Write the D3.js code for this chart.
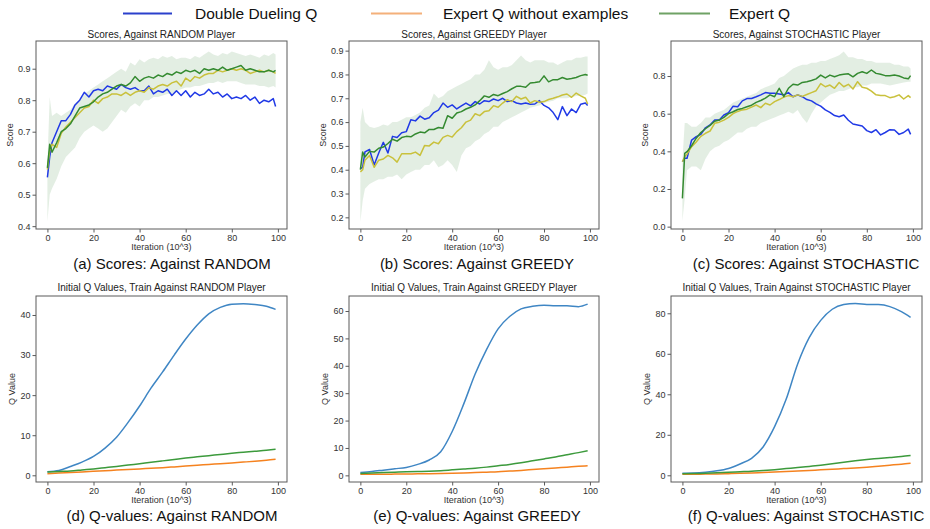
<!DOCTYPE html>
<html>
<head>
<meta charset="utf-8">
<script src="https://cdn.jsdelivr.net/npm/d3@7"></script>
<style>
  body { margin: 0; background: #fff; }
  svg { font-family: "Liberation Sans", Arial, Helvetica, sans-serif; }
</style>
</head>
<body>
<svg id="fig" width="930" height="529"></svg>
<script>
// legend names
const seriesNames = ['Double Dueling Q', 'Expert Q without examples', 'Expert Q']

// x positions (iterations, 10^3) of the score curves
const scoreIters = [0,1,2,4,6,8,10,12,14,16,18,20,22,24,26,28,30,32,34,36,38,40,42,44,46,48,
  50,52,54,56,58,60,62,64,66,68,70,72,74,76,78,80,82,84,86,88,90,92,94,96,98,99]

// (a) scores against RANDOM
const randomDueling = [0.555,0.62,0.665,0.70,0.735,0.735,0.755,0.785,0.80,0.825,0.81,0.83,0.835,0.83,0.845,0.84,0.835,0.85,0.84,0.835,
  0.84,0.83,0.83,0.845,0.82,0.83,0.825,0.835,0.815,0.83,0.815,0.83,0.81,0.825,0.815,0.82,0.835,0.82,0.825,0.81,
  0.82,0.805,0.81,0.805,0.815,0.80,0.81,0.79,0.80,0.795,0.805,0.78]
const randomNoEx = [0.58,0.64,0.66,0.65,0.695,0.715,0.73,0.745,0.76,0.775,0.78,0.80,0.79,0.805,0.81,0.82,0.82,0.815,0.825,0.815,
  0.825,0.83,0.825,0.84,0.835,0.845,0.85,0.845,0.855,0.86,0.845,0.87,0.86,0.875,0.87,0.88,0.885,0.885,0.895,0.89,
  0.895,0.90,0.895,0.90,0.895,0.885,0.89,0.895,0.89,0.895,0.89,0.885]
const randomExpert = [0.585,0.66,0.635,0.665,0.70,0.71,0.725,0.75,0.775,0.78,0.785,0.795,0.81,0.82,0.825,0.835,0.845,0.85,0.845,0.855,
  0.875,0.86,0.87,0.875,0.87,0.88,0.875,0.885,0.88,0.89,0.885,0.895,0.89,0.895,0.885,0.90,0.895,0.90,0.895,0.905,
  0.895,0.90,0.905,0.91,0.895,0.90,0.895,0.89,0.89,0.895,0.89,0.895]
const randomExpertHi = [0.60,0.81,0.75,0.76,0.75,0.76,0.77,0.79,0.80,0.82,0.83,0.84,0.85,0.86,0.87,0.88,0.89,0.90,0.89,0.92,
  0.91,0.93,0.92,0.93,0.935,0.93,0.94,0.935,0.94,0.93,0.935,0.935,0.93,0.94,0.935,0.945,0.955,0.945,0.94,0.95,
  0.945,0.955,0.95,0.945,0.94,0.945,0.94,0.935,0.945,0.94,0.95,0.945]
const randomExpertLo = [0.415,0.50,0.52,0.55,0.59,0.62,0.635,0.65,0.68,0.70,0.71,0.72,0.71,0.70,0.71,0.73,0.75,0.77,0.76,0.78,
  0.79,0.78,0.80,0.80,0.81,0.81,0.815,0.82,0.82,0.83,0.835,0.84,0.84,0.845,0.845,0.85,0.855,0.855,0.86,0.855,
  0.86,0.86,0.86,0.855,0.85,0.85,0.85,0.845,0.845,0.84,0.845,0.84]

// (b) scores against GREEDY
const greedyDueling = [0.405,0.41,0.475,0.485,0.42,0.47,0.515,0.47,0.54,0.535,0.555,0.56,0.61,0.605,0.625,0.612,0.618,0.64,0.65,0.68,
  0.662,0.672,0.655,0.668,0.68,0.668,0.686,0.676,0.69,0.686,0.697,0.69,0.70,0.686,0.69,0.68,0.676,0.68,0.675,0.676,
  0.69,0.67,0.66,0.64,0.61,0.665,0.627,0.655,0.64,0.675,0.68,0.67]
const greedyNoEx = [0.391,0.40,0.44,0.46,0.41,0.44,0.445,0.46,0.45,0.432,0.467,0.467,0.467,0.474,0.46,0.502,0.50,0.516,0.509,0.536,
  0.544,0.537,0.56,0.576,0.60,0.608,0.635,0.627,0.644,0.648,0.669,0.662,0.68,0.694,0.686,0.708,0.697,0.704,0.68,0.69,
  0.683,0.686,0.695,0.70,0.706,0.714,0.718,0.704,0.722,0.71,0.70,0.676]
const greedyExpert = [0.40,0.474,0.453,0.477,0.474,0.49,0.495,0.51,0.528,0.52,0.535,0.54,0.538,0.55,0.558,0.555,0.569,0.569,0.577,0.574,
  0.627,0.616,0.638,0.644,0.655,0.662,0.672,0.69,0.71,0.704,0.716,0.711,0.72,0.728,0.74,0.75,0.75,0.746,0.764,0.766,
  0.769,0.794,0.769,0.778,0.778,0.787,0.78,0.783,0.787,0.795,0.80,0.797]
const greedyExpertHi = [0.60,0.66,0.60,0.58,0.575,0.58,0.59,0.585,0.60,0.60,0.61,0.62,0.62,0.63,0.64,0.66,0.67,0.72,0.70,0.71,
  0.73,0.74,0.75,0.76,0.77,0.78,0.80,0.80,0.82,0.86,0.83,0.82,0.83,0.83,0.84,0.86,0.88,0.86,0.85,0.86,
  0.86,0.86,0.85,0.85,0.84,0.85,0.86,0.86,0.87,0.87,0.875,0.875]
const greedyExpertLo = [0.18,0.27,0.32,0.34,0.35,0.36,0.36,0.37,0.37,0.38,0.36,0.38,0.39,0.40,0.40,0.42,0.42,0.44,0.41,0.42,
  0.44,0.42,0.39,0.46,0.49,0.50,0.52,0.53,0.55,0.56,0.58,0.58,0.60,0.61,0.62,0.63,0.64,0.65,0.66,0.665,
  0.67,0.68,0.685,0.69,0.70,0.70,0.70,0.705,0.71,0.71,0.715,0.72]

// (c) scores against STOCHASTIC
const stochDueling = [0.345,0.363,0.363,0.46,0.478,0.49,0.525,0.54,0.566,0.566,0.593,0.605,0.64,0.637,0.668,0.68,0.681,0.69,0.70,0.712,
  0.708,0.708,0.705,0.70,0.712,0.69,0.70,0.69,0.675,0.668,0.652,0.64,0.62,0.607,0.59,0.584,0.593,0.565,0.545,0.54,
  0.535,0.51,0.50,0.515,0.487,0.50,0.515,0.513,0.49,0.50,0.518,0.49]
const stochNoEx = [0.345,0.372,0.385,0.425,0.45,0.48,0.496,0.508,0.549,0.555,0.566,0.58,0.60,0.612,0.62,0.624,0.635,0.646,0.632,0.655,
  0.646,0.664,0.675,0.688,0.696,0.69,0.70,0.692,0.702,0.712,0.722,0.76,0.743,0.752,0.735,0.766,0.743,0.756,0.731,0.77,
  0.74,0.735,0.72,0.70,0.696,0.696,0.685,0.69,0.70,0.678,0.696,0.685]
const stochExpert = [0.15,0.389,0.398,0.43,0.47,0.50,0.52,0.538,0.56,0.566,0.58,0.60,0.61,0.622,0.628,0.637,0.645,0.66,0.67,0.683,
  0.70,0.69,0.735,0.69,0.735,0.756,0.752,0.766,0.77,0.776,0.785,0.805,0.79,0.805,0.796,0.805,0.809,0.812,0.796,0.814,
  0.823,0.814,0.832,0.814,0.809,0.802,0.802,0.805,0.80,0.79,0.785,0.802]
const stochExpertHi = [0.35,0.55,0.55,0.53,0.53,0.55,0.58,0.58,0.60,0.61,0.62,0.64,0.66,0.67,0.68,0.69,0.70,0.71,0.73,0.74,
  0.75,0.76,0.79,0.80,0.82,0.84,0.85,0.86,0.86,0.87,0.87,0.88,0.88,0.89,0.90,0.91,0.93,0.90,0.90,0.89,
  0.89,0.88,0.88,0.87,0.87,0.87,0.87,0.86,0.86,0.85,0.85,0.84]
const stochExpertLo = [0.03,0.15,0.30,0.32,0.32,0.30,0.36,0.40,0.42,0.43,0.45,0.46,0.48,0.50,0.50,0.52,0.53,0.53,0.55,0.56,
  0.57,0.58,0.59,0.60,0.61,0.60,0.62,0.58,0.55,0.60,0.64,0.66,0.68,0.70,0.71,0.72,0.72,0.73,0.74,0.74,
  0.75,0.75,0.76,0.76,0.76,0.755,0.75,0.755,0.76,0.765,0.77,0.77]

// x positions of the initial Q-value curves
const qIters = [0,5,10,15,20,25,30,35,40,45,50,55,60,65,70,75,80,85,90,95,99]

const qRandomDueling = [0.9,1.2,2.2,3.3,4.7,6.8,9.5,13.2,17.3,21.8,25.8,30,34,37.5,40.3,41.9,42.7,42.8,42.6,42.2,41.4]
const qRandomNoEx = [0.4,0.55,0.7,0.85,1.0,1.15,1.3,1.45,1.6,1.75,1.9,2.1,2.3,2.5,2.7,2.9,3.1,3.3,3.5,3.75,4.0]
const qRandomExpert = [0.8,0.95,1.1,1.35,1.6,1.9,2.2,2.55,2.9,3.25,3.6,3.95,4.3,4.6,4.9,5.2,5.5,5.75,6.0,6.25,6.5]

const qGreedyDueling = [1.0,1.4,1.9,2.4,2.9,4.0,5.6,8.6,16,26,37,46,53.5,58,60.8,61.7,62.1,61.9,61.9,61.6,62.5]
const qGreedyNoEx = [0.4,0.4,0.4,0.45,0.5,0.55,0.6,0.7,0.8,0.9,1.0,1.15,1.3,1.55,1.8,2.1,2.4,2.7,3.0,3.3,3.5]
const qGreedyExpert = [0.7,0.85,1.0,1.15,1.3,1.4,1.5,1.7,2.0,2.3,2.6,3.0,3.5,4.0,4.6,5.3,6.0,6.7,7.5,8.3,9.0]

const qStochDueling = [1.0,1.1,1.5,2.2,3.4,5.6,8.4,14,24,37.5,55,68,76.5,82,84.3,84.8,84.4,84.3,83.3,80.8,78]
const qStochNoEx = [0.5,0.55,0.6,0.7,0.8,0.95,1.1,1.35,1.6,1.85,2.1,2.4,2.7,3.0,3.3,3.6,4.0,4.5,5.0,5.5,6.0]
const qStochExpert = [0.8,0.9,1.0,1.2,1.5,1.75,2.0,2.4,2.8,3.3,3.8,4.4,5.0,5.7,6.5,7.2,7.8,8.3,8.8,9.3,9.8]

const xTicks = [0,20,40,60,80,100]

// colours
const scoreColors = ['#2039e6', '#c9c13c', '#348a30']
const qColors = ['#3f86c4', '#f5821f', '#3c9a3c']
const legendColors = ['#2b40cc', '#f4b07a', '#6fa265']
const bandColor = '#3a8a3a'

const svg = d3.select('#fig')

// layout of the 2x3 grid
const cols = [{x0: 36, x1: 287, cx: 172}, {x0: 349, x1: 599, cx: 477}, {x0: 671, x1: 922, cx: 806}]
const rows = [
  {y0: 41, y1: 229, title: 38, xlab: 250, cap: 269, ylabOff: 23},
  {y0: 296, y1: 482, title: 291, xlab: 503, cap: 521, ylabOff: 21}
]

const panels = [
  {col: 0, row: 0, title: 'Scores, Against RANDOM Player', cap: '(a) Scores: Against RANDOM', ylab: 'Score',
    ydom: [0.391, 0.988], yticks: [0.4,0.5,0.6,0.7,0.8,0.9], fmt: d3.format('.1f'),
    xs: scoreIters, lines: [randomDueling, randomNoEx, randomExpert], band: [randomExpertLo, randomExpertHi], colors: scoreColors},
  {col: 1, row: 0, title: 'Scores, Against GREEDY Player', cap: '(b) Scores: Against GREEDY', ylab: 'Score',
    ydom: [0.151, 0.9405], yticks: [0.2,0.3,0.4,0.5,0.6,0.7,0.8,0.9], fmt: d3.format('.1f'),
    xs: scoreIters, lines: [greedyDueling, greedyNoEx, greedyExpert], band: [greedyExpertLo, greedyExpertHi], colors: scoreColors},
  {col: 2, row: 0, title: 'Scores, Against STOCHASTIC Player', cap: '(c) Scores: Against STOCHASTIC', ylab: 'Score',
    ydom: [-0.0125, 0.986], yticks: [0,0.2,0.4,0.6,0.8], fmt: d3.format('.1f'),
    xs: scoreIters, lines: [stochDueling, stochNoEx, stochExpert], band: [stochExpertLo, stochExpertHi], colors: scoreColors},
  {col: 0, row: 1, title: 'Initial Q Values, Train Against RANDOM Player', cap: '(d) Q-values: Against RANDOM', ylab: 'Q Value',
    ydom: [-1.67, 44.74], yticks: [0,10,20,30,40], fmt: d3.format('d'),
    xs: qIters, lines: [qRandomDueling, qRandomNoEx, qRandomExpert], colors: qColors},
  {col: 1, row: 1, title: 'Initial Q Values, Train Against GREEDY Player', cap: '(e) Q-values: Against GREEDY', ylab: 'Q Value',
    ydom: [-2.43, 65.48], yticks: [0,10,20,30,40,50,60], fmt: d3.format('d'),
    xs: qIters, lines: [qGreedyDueling, qGreedyNoEx, qGreedyExpert], colors: qColors},
  {col: 2, row: 1, title: 'Initial Q Values, Train Against STOCHASTIC Player', cap: '(f) Q-values: Against STOCHASTIC', ylab: 'Q Value',
    ydom: [-3.31, 88.54], yticks: [0,20,40,60,80], fmt: d3.format('d'),
    xs: qIters, lines: [qStochDueling, qStochNoEx, qStochExpert], colors: qColors}
]

panels.forEach(drawPanel)
drawLegend()

function drawPanel(p) {
  const c = cols[p.col], r = rows[p.row]
  const x = d3.scaleLinear().domain([-4.95, 103.95]).range([c.x0, c.x1])
  const y = d3.scaleLinear().domain(p.ydom).range([r.y1, r.y0])
  const g = svg.append('g')

  // shaded std band for Expert Q
  if (p.band) {
    const area = d3.area()
      .x((d, i) => x(p.xs[i]))
      .y0((d, i) => y(p.band[0][i]))
      .y1((d, i) => y(p.band[1][i]))
    g.append('path')
      .datum(p.xs)
      .attr('d', area)
      .attr('fill', bandColor)
      .attr('fill-opacity', 0.14)
  }

  const isQ = !p.band
  p.lines.forEach((vals, k) => {
    const line = d3.line()
      .x((d, i) => x(p.xs[i]))
      .y(d => y(d))
    if (isQ) line.curve(d3.curveMonotoneX)
    g.append('path')
      .datum(vals)
      .attr('d', line)
      .attr('fill', 'none')
      .attr('stroke', p.colors[k])
      .attr('stroke-width', 1.5)
      .attr('stroke-linejoin', 'round')
  })

  // frame
  g.append('rect')
    .attr('x', c.x0).attr('y', r.y0)
    .attr('width', c.x1 - c.x0).attr('height', r.y1 - r.y0)
    .attr('fill', 'none').attr('stroke', '#5a5a5a').attr('stroke-width', 1)

  const xAxis = g.append('g')
    .attr('transform', `translate(0,${r.y1})`)
    .call(d3.axisBottom(x).tickValues(xTicks).tickSize(3.5).tickPadding(2))
  const yAxis = g.append('g')
    .attr('transform', `translate(${c.x0},0)`)
    .call(d3.axisLeft(y).tickValues(p.yticks).tickFormat(p.fmt).tickSize(3.5).tickPadding(2))
  ;[xAxis, yAxis].forEach(a => {
    a.select('.domain').remove()
    a.selectAll('line').attr('stroke', '#5a5a5a')
    a.selectAll('text').attr('font-size', 9).attr('fill', '#333').attr('font-family', null)
  })

  g.append('text')
    .attr('x', (c.x0 + c.x1) / 2).attr('y', r.title)
    .attr('text-anchor', 'middle').attr('font-size', 10).attr('fill', '#222')
    .text(p.title)

  g.append('text')
    .attr('x', (c.x0 + c.x1) / 2).attr('y', r.xlab)
    .attr('text-anchor', 'middle').attr('font-size', 9).attr('fill', '#333')
    .text('Iteration (10^3)')

  g.append('text')
    .attr('transform', `translate(${c.x0 - r.ylabOff},${(r.y0 + r.y1) / 2}) rotate(-90)`)
    .attr('text-anchor', 'middle').attr('font-size', 9).attr('fill', '#333')
    .text(p.ylab)

  g.append('text')
    .attr('x', c.cx).attr('y', r.cap)
    .attr('text-anchor', 'middle').attr('font-size', 15).attr('fill', '#111')
    .text(p.cap)
}

function drawLegend() {
  const items = [
    {x1: 123, x2: 172, tx: 195},
    {x1: 371, x2: 422, tx: 443},
    {x1: 659, x2: 710, tx: 729}
  ]
  const lg = svg.append('g')
  items.forEach((it, i) => {
    lg.append('line')
      .attr('x1', it.x1).attr('x2', it.x2).attr('y1', 13.5).attr('y2', 13.5)
      .attr('stroke', legendColors[i]).attr('stroke-width', 2.2)
    lg.append('text')
      .attr('x', it.tx).attr('y', 19)
      .attr('font-size', 15.5).attr('fill', '#111')
      .text(seriesNames[i])
  })
}
</script>
</body>
</html>
